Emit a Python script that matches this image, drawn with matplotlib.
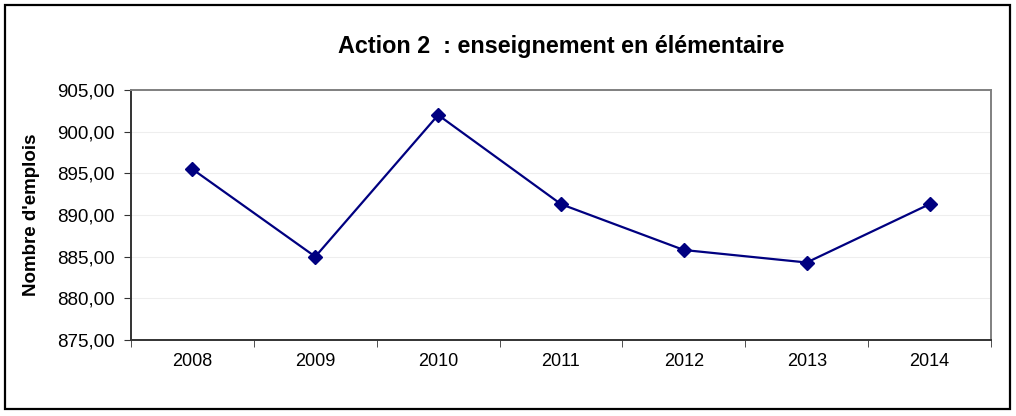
import matplotlib
matplotlib.use("Agg")
import matplotlib.pyplot as plt
from matplotlib.patches import Rectangle
from matplotlib.ticker import FixedLocator, FuncFormatter

# data
years = ["2008", "2009", "2010", "2011", "2012", "2013", "2014"]
emplois = [895.5, 885.0, 902.0, 891.3, 885.8, 884.3, 891.3]
y_ticks = [875, 880, 885, 890, 895, 900, 905]

plt.rcParams['font.family'] = ['Liberation Sans', 'DejaVu Sans']

W, H = 1016, 416
fig = plt.figure(figsize=(W / 100, H / 100), dpi=100)
ax = fig.add_axes([131 / W, 1 - 340 / H, 860 / W, 250 / H])

# outer frame around the whole chart
fig.patches.append(Rectangle((5 / W, 7 / H), 1005 / W, 404 / H, transform=fig.transFigure,
                             fill=False, edgecolor='black', linewidth=1.6))

x = list(range(len(years)))
ax.plot(x, emplois, color='#000080', linewidth=1.6, marker='D', markersize=7,
        markerfacecolor='#000080', markeredgecolor='#000080', zorder=3)

ax.set_xlim(-0.5, len(years) - 0.5)
ax.set_ylim(875, 905)
ax.set_yticks(y_ticks)
ax.yaxis.set_major_formatter(FuncFormatter(lambda v, p: f"{v:.2f}".replace('.', ',')))
ax.set_xticks(x)
ax.set_xticklabels(years)
ax.xaxis.set_minor_locator(FixedLocator([i - 0.5 for i in range(len(years) + 1)]))
ax.tick_params(axis='x', which='major', length=0, pad=9, labelsize=13)
ax.tick_params(axis='x', which='minor', length=5, direction='out', color='#333333')
ax.tick_params(axis='y', length=5, direction='out', labelsize=13.5, color='#333333', pad=7)

ax.grid(axis='y', color='#eeeeee', linewidth=0.8)
ax.set_axisbelow(True)
for side in ['top', 'right']:
    ax.spines[side].set_color('#808080')
    ax.spines[side].set_linewidth(1.4)
for side in ['left', 'bottom']:
    ax.spines[side].set_color('#333333')
    ax.spines[side].set_linewidth(1.4)

ax.set_ylabel("Nombre d'emplois", fontsize=13.5, fontweight='bold', labelpad=12)
fig.text(561 / W, 1 - 47 / H, "Action 2  : enseignement en élémentaire",
         ha='center', va='center', fontsize=16.8, fontweight='bold')

fig.savefig("out.png", dpi=100)
